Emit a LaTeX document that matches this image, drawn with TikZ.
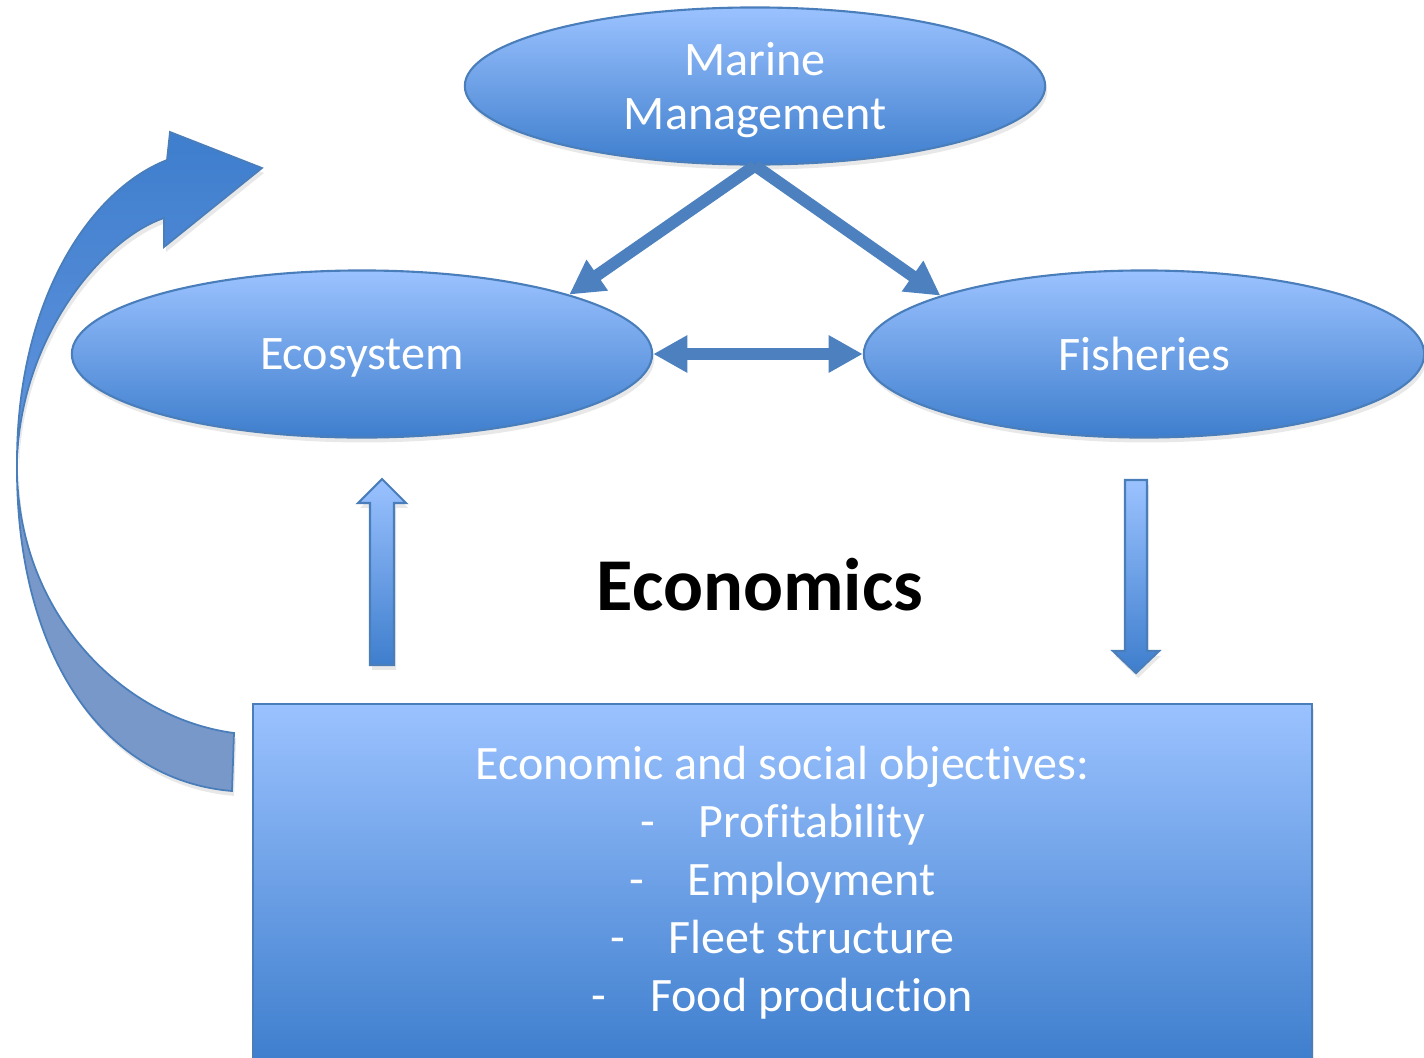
\documentclass[tikz,border=0pt]{standalone}
\usepackage{fontspec}
\setmainfont{Carlito}[Ligatures=NoCommon]
\usepackage{tikz}
\usetikzlibrary{arrows.meta, shapes.geometric, shadows}
\definecolor{bluelight}{RGB}{155,194,255}
\definecolor{bluedark}{RGB}{62,126,205}
\definecolor{blueedge}{RGB}{74,126,187}
\definecolor{bluearrow}{RGB}{77,128,190}
\definecolor{bluefront}{RGB}{62,126,205}
\definecolor{bluefade}{RGB}{98,148,222}
\definecolor{blueback}{RGB}{120,152,201}

\begin{document}
\begin{tikzpicture}[x=0.01cm, y=-0.01cm,
    soft/.style={drop shadow={opacity=0.18, shadow xshift=0.6pt, shadow yshift=-1.4pt}},
    blob/.style={ellipse, draw=blueedge, line width=0.6pt, top color=bluelight, bottom color=bluedark,
        text=white, inner sep=0pt, align=center, text depth=0pt, font=\fontsize{13.7}{15.4}\selectfont, soft},
    link/.style={draw=bluearrow, line width=3.4pt, -{Triangle[width=10pt,length=9.7pt]}},
    fat/.style={draw=blueedge, line width=0.6pt, top color=bluelight, bottom color=bluedark, soft}]
    \useasboundingbox (0,0) rectangle (1424,1057);

    \node[blob, minimum width=5.8cm, minimum height=1.57cm] at (755,86)   (mm)   {Marine\\Management};
    \node[blob, minimum width=5.8cm, minimum height=1.67cm] at (362,354)  (eco)  {Ecosystem};
    \node[blob, minimum width=5.6cm, minimum height=1.67cm] at (1144,354) (fish) {Fisheries};

    \node[draw=blueedge, line width=0.6pt, top color=bluelight, bottom color=bluedark, soft,
        minimum width=10.59cm, minimum height=3.58cm, text=white, align=center,
        font=\fontsize{13.65}{16.5}\selectfont] at (782.5,883) (obj)
        {Economic and social objectives:\\
         \makebox[16.6pt][l]{-}Profitability\\
         \makebox[16.6pt][l]{-}Employment\\
         \makebox[16.6pt][l]{-}Fleet structure\\
         \makebox[16.6pt][l]{-}Food production};

    \node[anchor=base, font=\bfseries\fontsize{21.2}{25}\selectfont] at (760,610) (econ) {Economics};

    \draw [link] (mm.south) -- (eco.16);
    \draw [link] (mm.south) -- (fish.164);
    \draw [link, {Triangle[width=10pt,length=9.7pt]}-{Triangle[width=10pt,length=9.7pt]}] (eco.east) -- (fish.west);

    % block arrows between the box and the ellipses
    \path [fat] (370,665) -- (370,503) -- (358,503) -- (382,479) -- (406,503) -- (394,503) -- (394,665) -- cycle;
    \path [fat] (1125,480) -- (1147,480) -- (1147,651) -- (1159,651) -- (1136,673) -- (1113,651) -- (1125,651) -- cycle;

    % curved feedback arrow
    \coordinate (twist) at (17,462);
    \path [draw=blueedge, line width=0.5pt, fill=blueback, soft]
        (232,791) .. controls (100,780) and (15,650) .. (twist)
        .. controls (15,610) and (120,718) .. (234,733) -- cycle;
    \path [draw=blueedge, line width=0.5pt, top color=bluefront, bottom color=bluefade, soft]
        (twist) .. controls (20,340) and (100,240) .. (164,218)
        -- (164,247) -- (262,168) -- (170,132) -- (167,160)
        .. controls (90,190) and (17,300) .. (twist) -- cycle;
\end{tikzpicture}
\end{document}
